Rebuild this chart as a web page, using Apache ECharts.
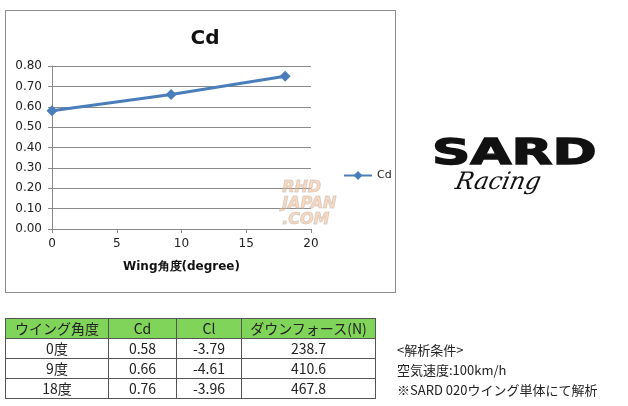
<!doctype html>
<html lang="ja">
<head>
    <meta charset="UTF-8">
    <title>SARD Cd</title>
    <script type="text/javascript" src="https://cdn.jsdelivr.net/npm/echarts@6/dist/echarts.min.js"></script>
    <style>
        body { margin: 0; background: #fff; font-family: "Noto Sans CJK JP", sans-serif; }
        #container { position: absolute; left: 0; top: 0; width: 628px; height: 406px; }
        #frame { position: absolute; left: 5px; top: 10px; width: 389px; height: 281px; border: 1px solid #8c8c8c; }
        #tbl { position: absolute; left: 5px; top: 318px; border-collapse: collapse; font-size: 14px; color: #222; }
        #tbl td, #tbl th { border: 1px solid #555; height: 19px; padding: 0; text-align: center; font-weight: normal; line-height: 19px; }
        #tbl th { background: #80d45a; }
        #notes { position: absolute; left: 397px; top: 340px; font-size: 13px; line-height: 20px; color: #222; }
        #logo { position: absolute; left: 432px; top: 134px; width: 175px; }
        #logo .sard { font-family: "DejaVu Sans"; font-weight: bold; font-size: 40px; letter-spacing: 0px; transform: scale(1.33, 0.9); transform-origin: left top; line-height: 38px; color: #111; -webkit-text-stroke: 1.5px #111; }
        #logo .racing { font-family: "DejaVu Serif"; font-style: italic; font-size: 24px; margin-left: 24px; margin-top: -4px; line-height: 26px; color: #111; transform: skewX(-12deg); }
    </style>
</head>
<body>
<div id="frame"></div>
<div id="container"></div>
<div id="logo"><div class="sard">SARD</div><div class="racing">Racing</div></div>
<table id="tbl"></table>
<div id="notes"></div>
<script type="text/javascript">

    // chart data
    var angles = [0, 9.2, 18];
    var cdValues = [0.58, 0.66, 0.75];

    // table data
    var tableHead = ['ウイング角度', 'Cd', 'Cl', 'ダウンフォース(N)'];
    var tableAngle = ['0度', '9度', '18度'];
    var tableCd = ['0.58', '0.66', '0.76'];
    var tableCl = ['-3.79', '-4.61', '-3.96'];
    var tableDown = ['238.7', '410.6', '467.8'];
    var colWidths = [102, 67, 64, 133];

    var notes = ['<解析条件>', '空気速度:100km/h', '※SARD 020ウイング単体にて解析'];

    var myChart = echarts.init(document.getElementById('container'));
    var option = {
        animation: false,
        title: {
            text: 'Cd',
            left: 200,
            top: 24,
            textAlign: 'center',
            textStyle: { fontSize: 20, fontWeight: 'bold', color: '#111', fontFamily: 'DejaVu Sans' }
        },
        legend: {
            left: 338,
            top: 165,
            itemWidth: 28,
            itemHeight: 11,
            textStyle: { fontSize: 11, color: '#222', fontFamily: 'DejaVu Sans' },
            data: ['Cd']
        },
        grid: { left: 52, right: 317, top: 66, bottom: 177 },
        xAxis: {
            type: 'value',
            min: 0, max: 20, interval: 5,
            name: 'Wing角度(degree)',
            nameLocation: 'middle',
            nameGap: 32,
            nameTextStyle: { fontSize: 12, fontWeight: 'bold', color: '#111', fontFamily: 'DejaVu Sans' },
            axisLine: { lineStyle: { color: '#888' } },
            axisTick: { show: true, length: 4, lineStyle: { color: '#888' } },
            axisLabel: { fontSize: 12, color: '#222', margin: 9, fontFamily: 'DejaVu Sans' },
            splitLine: { show: false }
        },
        yAxis: {
            type: 'value',
            min: 0, max: 0.8, interval: 0.1,
            axisLine: { show: true, lineStyle: { color: '#888' } },
            axisTick: { show: true, length: 4, lineStyle: { color: '#888' } },
            axisLabel: {
                fontSize: 12, color: '#222', margin: 10, fontFamily: 'DejaVu Sans',
                formatter: function (v) { return v.toFixed(2); }
            },
            splitLine: { lineStyle: { color: '#8a8a8a' } }
        },
        graphic: [{
            type: 'text',
            right: 291,
            top: 179,
            style: {
                text: 'RHD\nJAPAN\n.COM',
                font: 'italic bold 16px "DejaVu Sans"',
                fill: 'rgba(240,170,120,0.45)',
                stroke: 'rgba(190,190,190,0.6)',
                lineWidth: 1,
                align: 'right',
                lineHeight: 16
            },
            z: 1
        }],
        series: [{
            name: 'Cd',
            type: 'line',
            data: angles.map(function (a, i) { return [a, cdValues[i]]; }),
            symbol: 'diamond',
            symbolSize: 11,
            lineStyle: { color: '#4a7ebb', width: 3 },
            itemStyle: { color: '#4a7ebb' }
        }]
    };
    myChart.setOption(option);

    // table
    var tbl = document.getElementById('tbl');
    var html = '<tr>';
    for (var h = 0; h < tableHead.length; h++) {
        html += '<th style="width:' + colWidths[h] + 'px">' + tableHead[h] + '</th>';
    }
    html += '</tr>';
    for (var r = 0; r < tableAngle.length; r++) {
        html += '<tr><td>' + tableAngle[r] + '</td><td>' + tableCd[r] + '</td><td>' +
            tableCl[r] + '</td><td>' + tableDown[r] + '</td></tr>';
    }
    tbl.innerHTML = html;

    var nb = document.getElementById('notes');
    nb.innerHTML = notes.map(function (s) {
        return '<div>' + s.replace(/</g, '&lt;').replace(/>/g, '&gt;') + '</div>';
    }).join('');

</script>
</body>
</html>
